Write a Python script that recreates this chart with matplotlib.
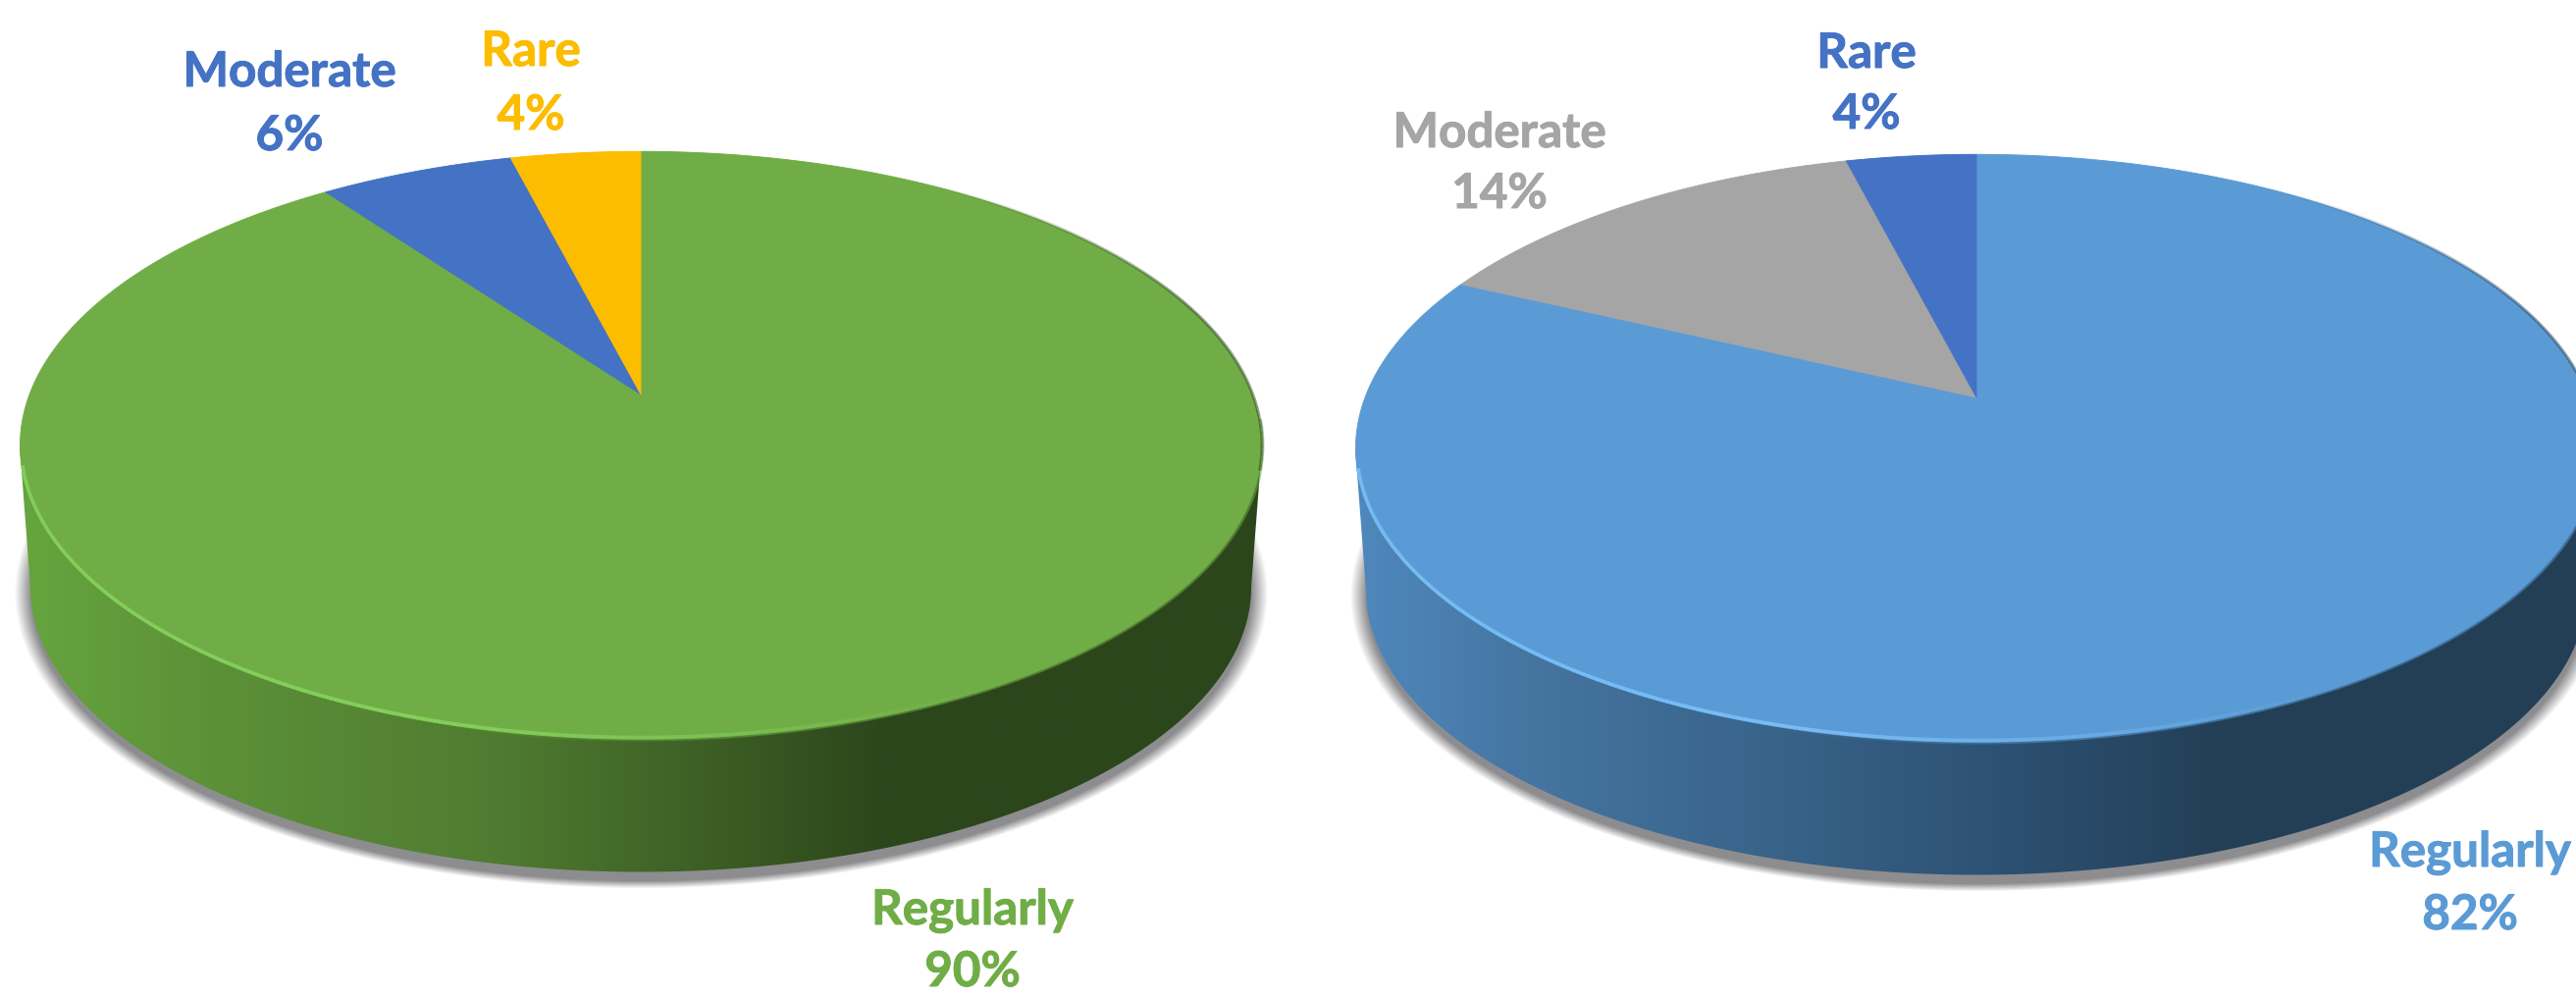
import numpy as np
import matplotlib
matplotlib.use("Agg")
import matplotlib.pyplot as plt
import matplotlib.patheffects as pe
from matplotlib.collections import LineCollection
from matplotlib.colors import LinearSegmentedColormap, to_rgb
from matplotlib.patches import Polygon

# Data, clockwise from 12 o'clock
categories = ["Regularly", "Moderate", "Rare"]
left_values = [90, 6, 4]
right_values = [82, 14, 4]

left_colors = ["#70AD47", "#4472C4", "#FCBC00"]
right_colors = ["#5B9BD5", "#A5A5A5", "#4472C4"]

# label anchors in pixels: (x, baseline of name, baseline of percent)
left_label_pos = [(991, 942, 1005), (295, 88, 153), (541, 67, 132)]
right_label_pos = [(2517, 883, 947), (1528, 150, 212), (1902, 69, 131)]

plt.rcParams["font.family"] = ["Lato", "DejaVu Sans"]


def perspective(x, y, cx, cy):
    # unit circle to the tilted disc, apex sits above the ellipse centre
    w = 1 + 0.173 * y
    return cx + 623 * x / w, cy - 290.6 * y / w


def edge_line(ax, cx, ey, rx, ry, deg_from, deg_to, color, fade, lw, zorder=4):
    # piece of the top ellipse, fade is a function of the angle in degrees
    phi = np.radians(np.linspace(deg_from, deg_to, 300))
    pts = np.column_stack([cx + rx * np.cos(phi), ey + ry * np.sin(phi)]).reshape(-1, 1, 2)
    segs = np.concatenate([pts[:-1], pts[1:]], axis=1)
    rgba = np.zeros((len(segs), 4))
    rgba[:, :3] = to_rgb(color)
    rgba[:, 3] = fade(np.degrees(phi[:-1]))
    ax.add_collection(LineCollection(segs, colors=rgba, linewidths=lw, zorder=zorder,
                                     capstyle="butt"))


def draw_pie(ax, values, colors, cx, cy, side_stops, rim_color, dark_edge, label_pos):
    rx, ry = 633, 299.5
    ey = cy + 51.5                  # centre of the top ellipse
    rx2, ry2 = 622, 290
    ey2 = ey + 145                  # centre of the bottom ellipse

    # soft shadow under the disc
    x0, x1 = cx - rx - 30, cx + rx + 30
    y0, y1 = ey, ey2 + ry2 + 40
    gx, gy = np.meshgrid(np.arange(x0, x1), np.arange(y0, y1))
    rho = np.sqrt(((gx - cx) / (rx2 + 4)) ** 2 + ((gy - ey2 - 6) / (ry2 + 5)) ** 2)
    dist = (rho - 1) * 300
    shadow = np.zeros(gx.shape + (4,))
    shadow[..., :3] = to_rgb("#808084")
    shadow[..., 3] = np.clip((6 - dist) / 8, 0, 1) * 0.9
    ax.imshow(shadow, extent=(x0, x1, y1, y0), aspect="auto", zorder=1)

    # side wall with the left to right gradient
    phi = np.linspace(np.pi, 0, 240)
    wall = np.column_stack([cx + rx2 * np.cos(phi), ey2 + ry2 * np.sin(phi)])
    wall = np.vstack([[cx - rx, ey], wall, [cx + rx, ey]])
    cmap = LinearSegmentedColormap.from_list("side", side_stops)
    grad = ax.imshow(np.linspace(0, 1, 512).reshape(1, -1), cmap=cmap, aspect="auto",
                     extent=(cx - rx, cx + rx, ey2 + ry2 + 2, ey - 2), zorder=2)
    grad.set_clip_path(Polygon(wall, closed=True, transform=ax.transData))

    # top face, one wedge per value
    start = 0.0
    total = sum(values)
    for value, color in zip(values, colors):
        t = np.pi / 2 - 2 * np.pi * np.linspace(start, start + value / total, 400)
        px, py = perspective(np.cos(t), np.sin(t), cx, cy)
        ax.fill(np.r_[cx, px], np.r_[cy, py], color=color, lw=0.6, zorder=3)
        start += value / total

    # soft transition over the dark wall
    edge_line(ax, cx, ey, rx, ry, 110, -5, colors[0],
              lambda d: 0.55 * np.clip((110 - d) / 30, 0, 1), 3.5)
    # light rim along the front edge, fading towards the right
    edge_line(ax, cx, ey, rx - 1.5, ry - 1.5, 176, 55, rim_color,
              lambda d: np.clip((d - 55) / 50, 0, 1), 2.6)
    # dark soft edge around the right side, nothing at the far top
    edge_line(ax, cx, ey, rx, ry, 5, -62, dark_edge,
              lambda d: 0.55 * np.clip((d + 62) / 35, 0, 1), 2.2)

    # labels
    for name, value, color, (lx, ly1, ly2) in zip(categories, values, colors, label_pos):
        for txt, ly in ((name, ly1), (f"{value}%", ly2)):
            t = ax.text(lx, ly, txt, color=color, fontsize=35.5, fontweight="bold",
                        ha="center", va="baseline", zorder=5)
            t.set_path_effects([pe.withStroke(linewidth=0.7, foreground=color)])


fig = plt.figure(figsize=(26.25, 10.16), dpi=100)
ax = fig.add_axes([0, 0, 1, 1])

draw_pie(ax, left_values, left_colors, 653, 402,
         [(0.0, "#66a53f"), (0.15, "#5c9138"), (0.38, "#507c31"),
          (0.55, "#3d5f25"), (0.70, "#2c461b"), (1.0, "#2c461b")],
         "#84d05c", "#2c461b", left_label_pos)
draw_pie(ax, right_values, right_colors, 2014, 405,
         [(0.0, "#4f88bd"), (0.15, "#44749f"), (0.38, "#365f84"),
          (0.55, "#2b4e6e"), (0.70, "#233f56"), (1.0, "#233f56")],
         "#78bdf5", "#233f56", right_label_pos)

ax.set_xlim(0, 2625)
ax.set_ylim(1016, 0)
ax.axis("off")

fig.savefig("out.png", dpi=100, facecolor="white")
